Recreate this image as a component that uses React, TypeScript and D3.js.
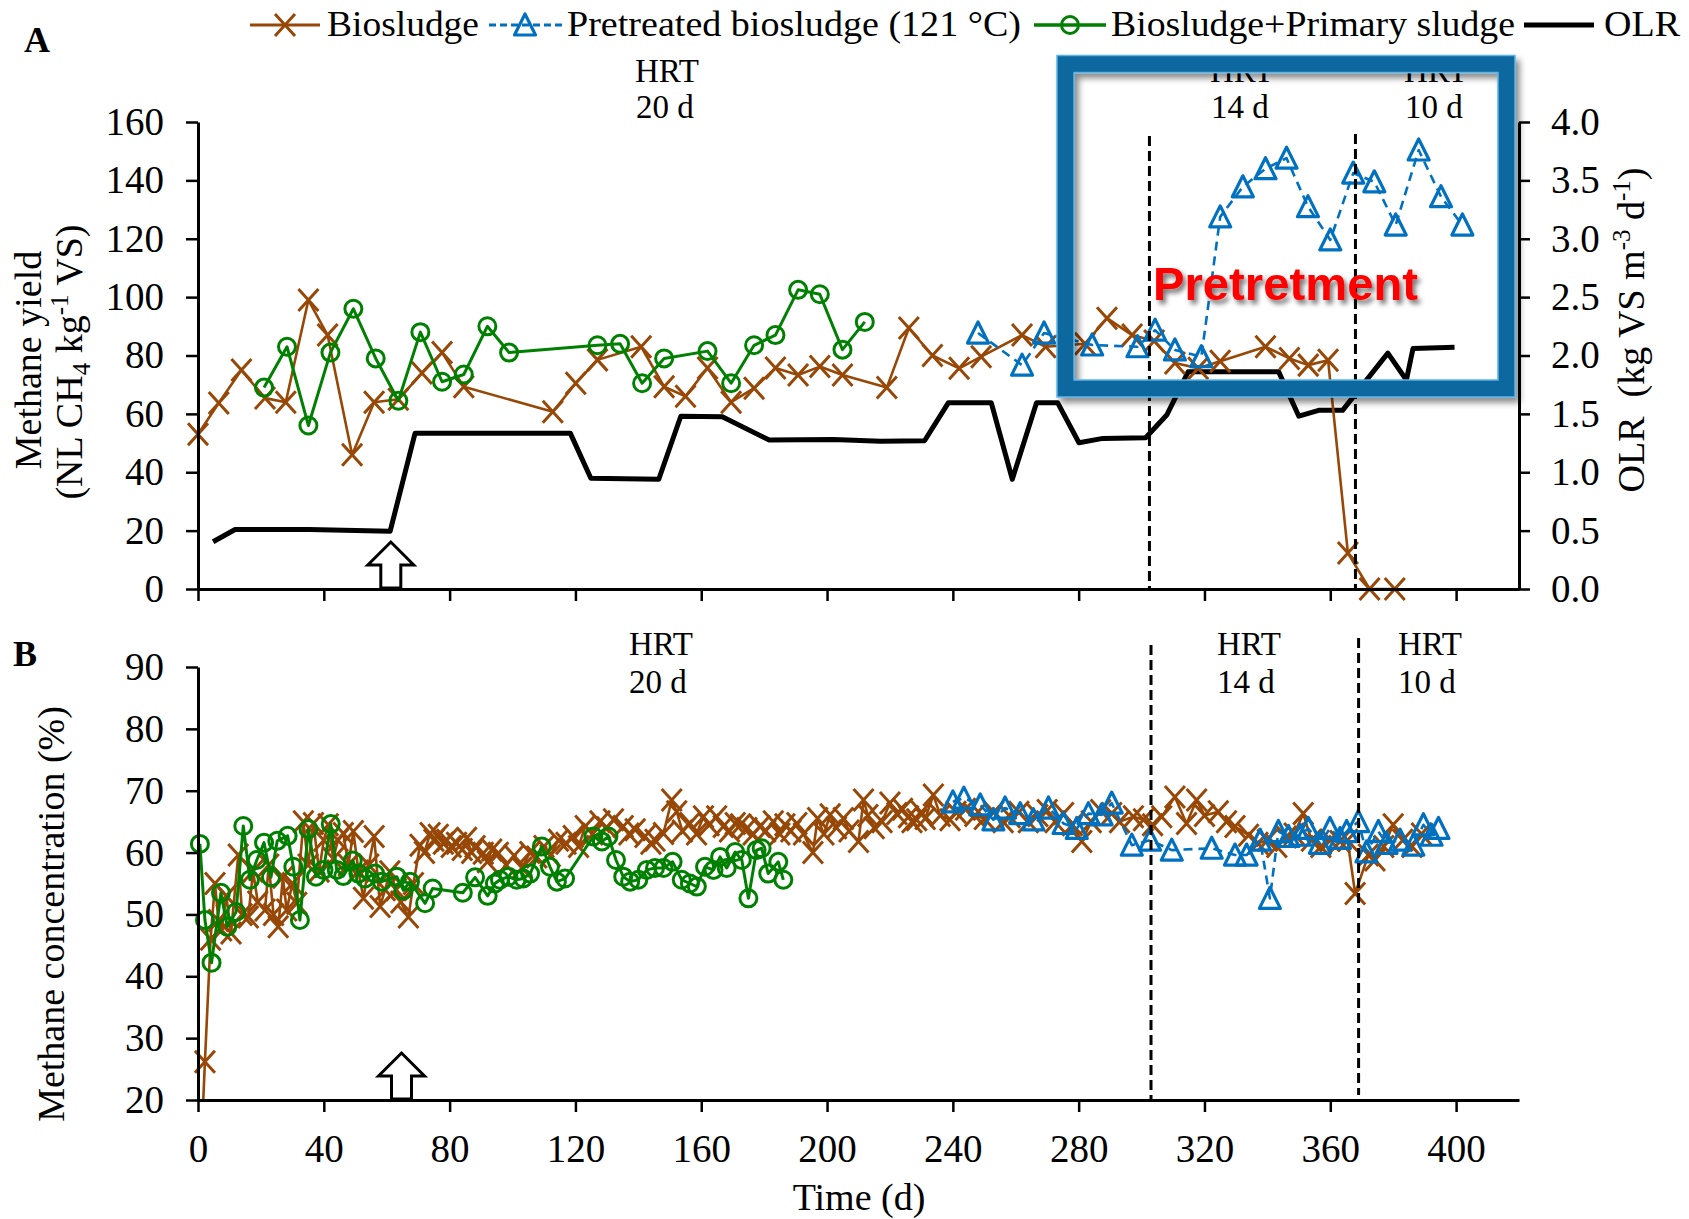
import React, { useEffect, useRef } from "react";
import * as d3 from "d3";

// tick values
const timeTicks = [0, 40, 80, 120, 160, 200, 240, 280, 320, 360, 400];
const yieldTicks = [0, 20, 40, 60, 80, 100, 120, 140, 160];
const olrTicks = [0, 0.5, 1, 1.5, 2, 2.5, 3, 3.5, 4];
const concTicks = [20, 30, 40, 50, 60, 70, 80, 90];

// panel A - methane yield (day, NL CH4/kg VS)
const biosludgeYield: [number, number][] = [
  [0, 53], [6.6, 63.7], [13.8, 75], [21.3, 65.4], [27.9, 64], [35.1, 99], [41.2, 87], [49, 46],
  [56, 64], [63.7, 65], [71.2, 74], [77.6, 81], [84.5, 69.3], [112.8, 60.7], [120.1, 70.5],
  [127, 78.5], [140.9, 83], [148.2, 69.3], [155, 66], [162, 75.7], [169.5, 64], [176.8, 68.8],
  [183.6, 75.7], [190.8, 73.3], [197.7, 76.2], [204.9, 73.3], [219, 69], [226, 89.4], [233.5, 80],
  [242, 75.6], [249, 79.6], [262, 87], [269.5, 83], [282, 84], [289, 92.8], [297, 87], [304, 85],
  [310.6, 77.4], [318, 75.6], [325, 78], [339.4, 83], [347, 79], [353, 76.7], [359.3, 78.4],
  [365.6, 12.3], [372.5, 0], [380.5, 0],
];
const pretreatedYield: [number, number][] = [
  [248, 87.7], [262, 76.7], [269, 87.7], [284.3, 83.6], [298.7, 83], [304.3, 88.7], [310.6, 81.9],
  [319, 79.6], [325, 127.5], [332.2, 137.8], [339.4, 144], [346.1, 147.6], [352.9, 131], [360, 119.6],
  [367.3, 142.5], [374, 139.5], [380.8, 124.7], [388.1, 150.4], [395.2, 134.4], [402, 124.7],
];
const mixYield: [number, number][] = [
  [21, 69], [28.3, 83], [35.1, 56], [42.1, 81], [49.4, 96], [56.5, 79], [63.7, 64.5], [70.7, 88],
  [77.6, 71], [84.5, 73.5], [92, 90], [98.9, 81], [127, 83.5], [134.2, 84], [141.2, 70.5],
  [148.2, 79], [162, 81.5], [169.5, 70.5], [176.8, 83.5], [183.6, 87], [190.8, 102.5], [197.7, 101],
  [204.9, 82], [212, 91.5],
];
// OLR (kg VS m-3 d-1)
const olr: [number, number][] = [
  [4.8, 0.405], [11.8, 0.51], [35.4, 0.51], [61.1, 0.495], [69, 1.333], [118.4, 1.333], [124.9, 0.948],
  [146.5, 0.94], [153.5, 1.48], [166.7, 1.476], [181.6, 1.276], [202, 1.28], [217, 1.265], [231, 1.27],
  [238.6, 1.596], [252.2, 1.596], [258.9, 0.94], [266.6, 1.596], [273.3, 1.596], [280.1, 1.253],
  [287.7, 1.29], [301.3, 1.296], [308, 1.49], [314.8, 1.86], [343.6, 1.86], [350, 1.48], [356.3, 1.53],
  [363.9, 1.53], [378.3, 2.02], [384.2, 1.79], [386.3, 2.06], [399.5, 2.07],
];

// panel B - methane concentration (%)
const biosludgeConc: [number, number][] = [
  [0, 0], [2.2, 26.2], [4, 46], [5.4, 55], [6.5, 49], [7.5, 47.5], [9, 53], [10.5, 47], [12.8, 59.6],
  [14, 50], [16, 49.6], [17.5, 57], [19, 52], [21.3, 50.7], [22.5, 58], [24, 50], [25.5, 48], [27, 56],
  [28.2, 50.7], [30, 55], [31.4, 51.8], [33.5, 65], [35, 58], [36.7, 64.7], [38.5, 57], [40, 62],
  [41.4, 64.5], [43, 59], [44.5, 62], [46.2, 63.1], [47.8, 58], [49.4, 63.4], [51, 57], [52.6, 52.6],
  [54.3, 58], [56, 62.6], [57.9, 51.3], [59.5, 54], [61, 56.9], [63, 54], [64.5, 52], [66.9, 49.6],
  [68.5, 55], [70.6, 61.2], [72, 60], [73.8, 63.1], [75, 62], [76.4, 62.8], [78, 61.5], [79.1, 62],
  [80.5, 61], [82.2, 61.5], [84, 60.5], [85.4, 62.3], [87, 60], [88.1, 61], [90.7, 59.9], [92, 58.5],
  [93.4, 60.4], [95.5, 59.9], [98, 58], [100.5, 59.5], [103, 57.5], [105.5, 60], [107.7, 59.3],
  [110, 61], [112, 59.5], [114.6, 62], [117, 61.5], [119.3, 62.6], [121, 61], [123.1, 64.2],
  [125.5, 63], [127.8, 65], [130, 64], [132.1, 65.3], [135.2, 64.2], [137, 63], [139, 63.7],
  [142.1, 62.6], [144, 61.5], [145.3, 62], [148, 63.1], [150.6, 68.5], [152.2, 66.6], [154, 63.5],
  [156.4, 64.7], [158.5, 63], [160.7, 65.8], [162.5, 64.5], [164.9, 65.8], [167, 64.2], [169, 63.5],
  [170.8, 64.7], [172.5, 64.5], [174.5, 63.9], [176.5, 63], [178.7, 64.2], [180.5, 63.5], [182.9, 65],
  [185, 63], [186.6, 64.5], [188.5, 63.5], [190.4, 64.7], [192.5, 63], [195.5, 60], [197, 65.5],
  [199, 63], [201, 66.1], [203, 64], [205.2, 65.5], [207, 63.5], [210, 61.8], [211.6, 68.5], [213, 66],
  [215, 64], [217.5, 65], [220, 68], [222.2, 66.3], [224, 67], [225.9, 65.8], [227, 65], [228.5, 65.3],
  [230, 66.5], [231.2, 65.5], [233.8, 69.3], [236, 66], [239.1, 65.3], [241, 66.5], [244, 67],
  [247, 66], [250, 65.5], [253, 66.5], [256, 65], [258.2, 65.8], [261, 66.5], [264, 65], [267, 66],
  [270, 66.8], [272.5, 65], [275.2, 66.3], [278, 64.5], [281, 61.8], [284, 65], [287, 66.8],
  [290.5, 66.3], [293, 65], [297.4, 65.8], [300.6, 65.3], [303.5, 64.5], [306.4, 65.8], [310.6, 69],
  [314.3, 64.7], [317.5, 68.5], [320, 66], [324.4, 66.6], [327, 65], [329.7, 64.2], [334, 62.8],
  [337, 61.5], [340, 62], [343, 61], [346, 62.5], [348.5, 63], [351.4, 66.3], [354, 62], [357, 61],
  [360, 62], [363.1, 61.8], [365.5, 62], [367.9, 53.4], [372.1, 59.6], [374.2, 58.8], [377, 61],
  [380, 64.5], [383, 62], [386, 61], [389, 63],
];
const pretreatedConc: [number, number][] = [
  [240, 68.2], [243.5, 68.8], [248.7, 67.7], [252.9, 65.3], [256.6, 67.2], [261.4, 66.3],
  [265.6, 65.3], [270.4, 67.2], [275.2, 64.7], [279.4, 63.9], [283.1, 66.3], [287.3, 66.1],
  [290.5, 68], [296.9, 61.2], [302.7, 62], [309.6, 60.4], [322.3, 60.7], [329.7, 59.6], [333.4, 59.6],
  [337.7, 62], [340.8, 52.6], [343.5, 63.4], [346.7, 62.6], [350.4, 62.8], [353, 63.9], [356.7, 61.5],
  [359.9, 63.9], [363.1, 62.3], [365.2, 63.4], [368.9, 65], [371.5, 60.1], [375.3, 63.4],
  [377.9, 61.5], [382.2, 62], [386.4, 61.2], [389.6, 64.5], [392.2, 62.8], [394.4, 63.9],
];
const mixConc: [number, number][] = [
  [0.6, 61.4], [2.2, 49.1], [4.3, 42.2], [7.3, 53.5], [9.3, 48], [12.1, 50.4], [14.4, 64.3],
  [16.5, 55.6], [18.7, 58.8], [21, 61.6], [23.2, 56], [25.2, 61.9], [28.5, 62.7], [30.3, 57.7],
  [32.4, 49.1], [35.1, 63.8], [37.5, 56.1], [39.9, 57.2], [42.2, 64.6], [44.1, 57.2], [46.2, 56.2],
  [49.2, 58.7], [51, 56.6], [53.1, 55.8], [56.3, 56.6], [58.4, 55.3], [63.2, 56.1], [65.3, 53.9],
  [67.4, 55.3], [72.2, 51.8], [74.6, 54.2], [84.2, 53.5], [88.1, 56], [92.1, 53], [94.4, 55],
  [96, 55.6], [98.7, 56.1], [101.3, 55.6], [103.4, 55.8], [105.6, 56.6], [109.3, 61], [111.9, 57.7],
  [114.1, 55.3], [116.7, 55.8], [125.7, 62.6], [128.4, 61.8], [130.5, 62.6], [132.9, 58.8],
  [135.2, 56.1], [137.4, 55.3], [140, 55.6], [142.7, 57.2], [145.3, 57.5], [148, 57.5], [150.9, 58.5],
  [153.8, 55.6], [156.4, 55], [158.6, 54.5], [161.2, 57.7], [163.9, 57.2], [166, 59.3], [168.1, 57.5],
  [170.8, 60.1], [172.9, 58.8], [175, 52.6], [177.6, 60.4], [179.2, 60.7], [181.3, 56.6],
  [184.5, 58.5], [186.1, 55.6],
];

// HRT change days and feed change day
const hrtChangesA = [302.5, 368];
const hrtChangesB = [303, 369];
const arrowDayA = 61.3;
const arrowDayB = 64.7;

const BROWN = "#974706";
const BLUE = "#0070C0";
const GREEN = "#008000";
const SERIF = "'Liberation Serif', 'Times New Roman', serif";

const App = () => {
  const ref = useRef<SVGSVGElement>(null);

  useEffect(() => {
    const svg = d3.select(ref.current);
    svg.selectAll("*").remove();

    const x = d3.scaleLinear().domain([0, 420]).range([198, 1519]);
    const yA = d3.scaleLinear().domain([0, 160]).range([589, 122]);
    const yOlr = d3.scaleLinear().domain([0, 4]).range([589, 122]);
    const yB = d3.scaleLinear().domain([20, 90]).range([1100, 667]);

    svg.append("rect").attr("width", 1689).attr("height", 1219).attr("fill", "#fff");

    const defs = svg.append("defs");
    defs.append("clipPath").attr("id", "clipB")
      .append("rect").attr("x", 150).attr("y", 600).attr("width", 1450).attr("height", 500);
    const f1 = defs.append("filter").attr("id", "boxShadow").attr("x", "-10%").attr("y", "-10%").attr("width", "125%").attr("height", "125%");
    f1.append("feDropShadow").attr("dx", 4).attr("dy", 5).attr("stdDeviation", 3).attr("flood-color", "#000").attr("flood-opacity", 0.45);
    const f2 = defs.append("filter").attr("id", "textShadow").attr("x", "-10%").attr("y", "-30%").attr("width", "125%").attr("height", "170%");
    f2.append("feDropShadow").attr("dx", 3).attr("dy", 4).attr("stdDeviation", 2.5).attr("flood-color", "#000").attr("flood-opacity", 0.55);

    const cross = (g: any, cx: number, cy: number) =>
      g.append("path")
        .attr("d", `M${cx - 10},${cy - 11}L${cx + 10},${cy + 11}M${cx - 10},${cy + 11}L${cx + 10},${cy - 11}`)
        .attr("stroke", BROWN).attr("stroke-width", 3).attr("fill", "none");
    const tri = (g: any, cx: number, cy: number) =>
      g.append("path")
        .attr("d", `M${cx},${cy - 11}L${cx + 10.5},${cy + 10}L${cx - 10.5},${cy + 10}Z`)
        .attr("stroke", BLUE).attr("stroke-width", 3.2).attr("stroke-linejoin", "round").attr("fill", "none");
    const circ = (g: any, cx: number, cy: number) =>
      g.append("circle").attr("cx", cx).attr("cy", cy).attr("r", 8.5)
        .attr("stroke", GREEN).attr("stroke-width", 3).attr("fill", "none");

    const drawSeries = (g: any, data: [number, number][], y: any, color: string, width: number, dash: string | null, marker: any) => {
      const line = d3.line<[number, number]>().x((d) => x(d[0])).y((d) => y(d[1]));
      g.append("path").datum(data).attr("d", line).attr("fill", "none")
        .attr("stroke", color).attr("stroke-width", width)
        .attr("stroke-dasharray", dash).attr("stroke-linejoin", "round");
      data.forEach((d) => marker(g, x(d[0]), y(d[1])));
    };

    const styleAxis = (g: any, fontSize: number) => {
      g.select(".domain").attr("stroke", "#000").attr("stroke-width", 3);
      g.selectAll(".tick line").attr("stroke", "#000").attr("stroke-width", 2.5);
      g.selectAll(".tick text").attr("fill", "#000").attr("font-family", SERIF).attr("font-size", fontSize);
    };

    // ---------- Panel A ----------
    const gA = svg.append("g");
    drawSeries(gA, olr, yOlr, "#000", 5, null, () => null);
    drawSeries(gA, biosludgeYield, yA, BROWN, 2.6, null, cross);
    drawSeries(gA, pretreatedYield, yA, BLUE, 2.6, "9,6", tri);
    drawSeries(gA, mixYield, yA, GREEN, 3, null, circ);

    hrtChangesA.forEach((d, i) => {
      gA.append("line").attr("x1", x(d)).attr("x2", x(d)).attr("y1", i === 0 ? 136 : 134).attr("y2", 589)
        .attr("stroke", "#000").attr("stroke-width", 3).attr("stroke-dasharray", "10,5");
    });

    const axA = svg.append("g").attr("transform", "translate(0,589)")
      .call(d3.axisBottom(x).tickValues(timeTicks).tickSize(12).tickSizeOuter(0).tickFormat(() => ""));
    styleAxis(axA, 39);
    const ayA = svg.append("g").attr("transform", "translate(198,0)")
      .call(d3.axisLeft(yA).tickValues(yieldTicks).tickSize(12).tickSizeOuter(0).tickPadding(22).tickFormat(d3.format("d")));
    styleAxis(ayA, 39);
    const ayR = svg.append("g").attr("transform", "translate(1519,0)")
      .call(d3.axisRight(yOlr).tickValues(olrTicks).tickSize(11).tickSizeOuter(0).tickPadding(21).tickFormat(d3.format(".1f")));
    styleAxis(ayR, 39);

    // ---------- Panel B ----------
    const gB = svg.append("g").attr("clip-path", "url(#clipB)");
    drawSeries(gB, biosludgeConc, yB, BROWN, 2.6, null, cross);
    drawSeries(gB, mixConc, yB, GREEN, 3, null, circ);
    drawSeries(gB, pretreatedConc, yB, BLUE, 2.6, "9,6", tri);

    hrtChangesB.forEach((d, i) => {
      svg.append("line").attr("x1", x(d)).attr("x2", x(d)).attr("y1", i === 0 ? 645 : 638).attr("y2", i === 0 ? 1100 : 1095)
        .attr("stroke", "#000").attr("stroke-width", 3).attr("stroke-dasharray", "10,5");
    });

    const axB = svg.append("g").attr("transform", "translate(0,1100)")
      .call(d3.axisBottom(x).tickValues(timeTicks).tickSize(12).tickSizeOuter(0).tickPadding(22).tickFormat(d3.format("d")));
    styleAxis(axB, 39);
    const ayB = svg.append("g").attr("transform", "translate(198,0)")
      .call(d3.axisLeft(yB).tickValues(concTicks).tickSize(12).tickSizeOuter(0).tickPadding(22).tickFormat(d3.format("d")));
    styleAxis(ayB, 39);

    // hollow arrows marking feed change
    const arrow = (cx: number, yt: number, yb: number) =>
      svg.append("path")
        .attr("d", `M${cx},${yt}L${cx + 23},${yt + 23}L${cx + 10},${yt + 23}L${cx + 10},${yb}L${cx - 10},${yb}L${cx - 10},${yt + 23}L${cx - 23},${yt + 23}Z`)
        .attr("fill", "#fff").attr("stroke", "#000").attr("stroke-width", 3).attr("stroke-linejoin", "miter");
    arrow(x(arrowDayA), 542, 588);
    arrow(x(arrowDayB), 1053, 1099);

    // ---------- text ----------
    const txt = (xx: number, yy: number, s: string, size: number, anchor = "start", weight = "normal") =>
      svg.append("text").attr("x", xx).attr("y", yy).attr("font-family", SERIF).attr("font-size", size)
        .attr("font-weight", weight).attr("text-anchor", anchor).attr("fill", "#000").text(s);

    txt(24, 52, "A", 36, "start", "bold");
    txt(13, 666, "B", 36, "start", "bold");

    // HRT labels
    [[635, "20 d"], [1210, "14 d"], [1404, "10 d"]].forEach(([xx, s]) => {
      txt(xx as number, 82, "HRT", 33);
      txt((xx as number) + 1, 118, s as string, 33);
    });
    [[629, "20 d"], [1217, "14 d"], [1398, "10 d"]].forEach(([xx, s]) => {
      txt(xx as number, 655, "HRT", 33);
      txt(xx as number, 693, s as string, 33);
    });

    // axis titles
    txt(41, 360, "Methane yield", 38, "middle").attr("transform", "rotate(-90,41,360)");
    const t2 = svg.append("text").attr("transform", "translate(82,362) rotate(-90)")
      .attr("font-family", SERIF).attr("font-size", 38).attr("text-anchor", "middle").attr("fill", "#000");
    t2.append("tspan").text("(NL CH");
    t2.append("tspan").attr("font-size", 25).attr("dy", 8).text("4");
    t2.append("tspan").attr("dy", -8).text(" kg");
    t2.append("tspan").attr("font-size", 25).attr("dy", -14).text("-1");
    t2.append("tspan").attr("dy", 14).text(" VS)");

    const t3 = svg.append("text").attr("transform", "translate(1644,330) rotate(-90)")
      .attr("font-family", SERIF).attr("font-size", 38).attr("text-anchor", "middle").attr("fill", "#000")
      .style("white-space", "pre");
    t3.append("tspan").text("OLR  (kg VS m");
    t3.append("tspan").attr("font-size", 25).attr("dy", -14).text("-3");
    t3.append("tspan").attr("dy", 14).text(" d");
    t3.append("tspan").attr("font-size", 25).attr("dy", -14).text("-1");
    t3.append("tspan").attr("dy", 14).text(")");

    txt(64, 914, "Methane concentration (%)", 38, "middle").attr("transform", "rotate(-90,64,914)");
    txt(859, 1210, "Time (d)", 38, "middle");

    // ---------- legend ----------
    const lg = svg.append("g");
    const ly = 25;
    lg.append("line").attr("x1", 250).attr("x2", 320).attr("y1", ly).attr("y2", ly).attr("stroke", BROWN).attr("stroke-width", 3);
    cross(lg, 285, ly);
    lg.append("line").attr("x1", 489).attr("x2", 563).attr("y1", ly).attr("y2", ly).attr("stroke", BLUE).attr("stroke-width", 3).attr("stroke-dasharray", "7,4");
    tri(lg, 525, ly);
    lg.append("line").attr("x1", 1034).attr("x2", 1106).attr("y1", ly).attr("y2", ly).attr("stroke", GREEN).attr("stroke-width", 3.5);
    circ(lg, 1070, ly);
    lg.append("line").attr("x1", 1524).attr("x2", 1594).attr("y1", ly).attr("y2", ly).attr("stroke", "#000").attr("stroke-width", 5);
    const legendItems: [number, number, string][] = [
      [327, 152, "Biosludge"],
      [567, 454, "Pretreated biosludge (121 °C)"],
      [1111, 404, "Biosludge+Primary sludge"],
      [1604, 76, "OLR"],
    ];
    legendItems.forEach(([xx, w, s]) => {
      txt(xx, 36, s, 36).attr("textLength", w).attr("lengthAdjust", "spacingAndGlyphs");
    });

    // ---------- highlight box ----------
    const box = svg.append("g").attr("filter", "url(#boxShadow)");
    box.append("rect").attr("x", 1065.5).attr("y", 64).attr("width", 441).attr("height", 324.5)
      .attr("fill", "none").attr("stroke", "#07679f").attr("stroke-width", 17);
    box.append("rect").attr("x", 1057).attr("y", 55.5).attr("width", 458).attr("height", 341.5)
      .attr("fill", "none").attr("stroke", "#5db4e6").attr("stroke-width", 1.5);
    box.append("rect").attr("x", 1074).attr("y", 72.5).attr("width", 424).attr("height", 307.5)
      .attr("fill", "none").attr("stroke", "#5db4e6").attr("stroke-width", 1.5);

    svg.append("text").attr("x", 1153).attr("y", 300)
      .attr("font-family", "'Liberation Sans', Arial, sans-serif").attr("font-weight", "bold")
      .attr("font-size", 46).attr("fill", "#ff0000").attr("textLength", 265).attr("lengthAdjust", "spacingAndGlyphs")
      .attr("filter", "url(#textShadow)").text("Pretretment");
  }, []);

  return (
    <svg ref={ref} width={1689} height={1219} style={{ position: "absolute", left: 0, top: 0 }} />
  );
};

export default App;
